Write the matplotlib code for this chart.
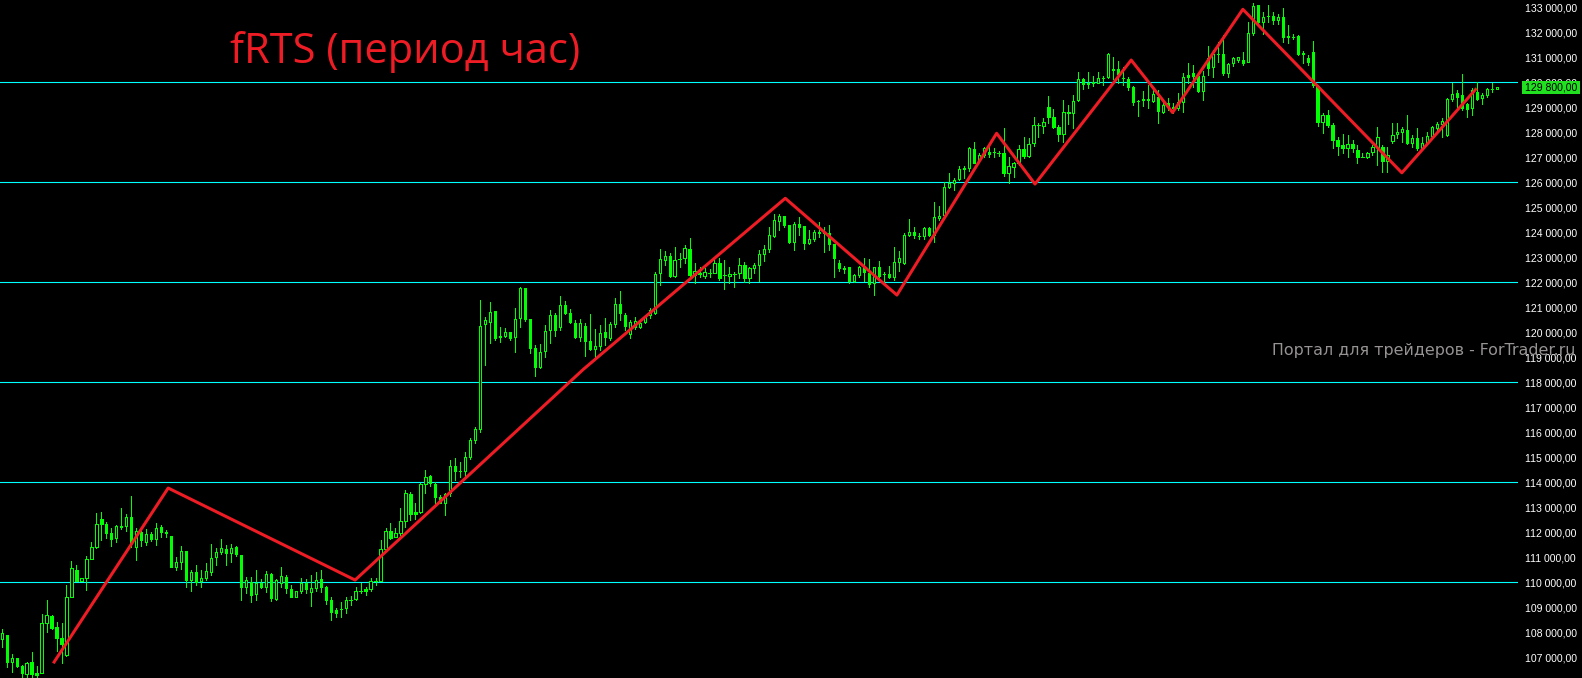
import matplotlib
matplotlib.use('Agg')
import matplotlib.pyplot as plt
from matplotlib.patches import Rectangle

# fRTS hourly candles, prices in thousands
opens = [
    107.72, 107.89, 106.82, 106.96, 106.65, 106.33, 106.8, 106.38, 106.38, 108.36,
    108.65, 108.2, 107.78, 107.09, 109.42, 110.49, 110.06, 110.18, 110.93, 111.42,
    112.53, 112.33, 111.96, 111.76, 112.2, 112.26, 112.6, 111.42, 112.02, 111.6,
    111.93, 111.73, 112.2, 112.0, 111.85, 110.6, 110.82, 111.25, 110.09, 110.4,
    110.06, 110.16, 110.42, 111.03, 111.22, 111.33, 111.18, 111.42, 111.09, 109.82,
    110.02, 109.52, 109.98, 109.82, 110.33, 109.33, 109.99, 110.2, 109.73, 109.42,
    109.65, 109.98, 109.62, 109.78, 110.12, 109.82, 109.29, 108.89, 108.93, 108.96,
    109.28, 109.32, 109.66, 109.74, 109.73, 110.06, 110.06, 111.32, 112.05, 111.8,
    111.96, 112.45, 113.53, 112.8, 112.8, 113.92, 114.25, 113.92, 113.4, 113.16,
    113.56, 114.65, 114.45, 114.45, 115.02, 115.69, 116.12, 120.32, 120.42, 120.85,
    119.82, 119.85, 120.0, 119.82, 120.56, 121.76, 120.53, 119.36, 118.6, 119.26,
    120.09, 120.69, 120.2, 121.09, 120.76, 120.38, 119.82, 120.25, 119.65, 119.33,
    119.45, 120.0, 119.76, 120.33, 121.13, 120.69, 119.92, 120.22, 120.2, 120.42,
    120.69, 120.76, 122.36, 122.89, 123.05, 122.26, 122.92, 122.98, 123.32, 122.29,
    122.35, 122.26, 122.38, 122.38, 122.76, 122.29, 122.25, 122.33, 122.36, 122.69,
    122.16, 122.58, 122.69, 123.13, 123.33, 123.85, 124.46, 124.65, 124.29, 123.62,
    124.33, 124.25, 123.58, 123.73, 123.99, 123.99, 123.96, 123.53, 122.76, 122.56,
    122.6, 122.06, 122.29, 122.6, 122.36, 121.96, 122.6, 122.33, 122.33, 122.2,
    122.8, 122.76, 123.89, 124.02, 123.86, 123.86, 124.18, 123.89, 124.56, 124.69,
    125.82, 125.96, 126.12, 126.55, 126.56, 127.32, 126.89, 127.09, 127.22, 127.2,
    127.18, 127.16, 126.38, 126.62, 126.76, 127.32, 127.05, 127.58, 128.29, 128.26,
    129.0, 128.6, 128.2, 127.93, 128.76, 128.76, 129.29, 130.12, 129.96, 130.02,
    129.98, 130.18, 130.2, 130.52, 130.52, 130.19, 130.13, 129.82, 129.25, 129.32,
    129.32, 129.25, 129.42, 128.83, 129.16, 128.99, 128.96, 129.22, 130.29, 130.39,
    130.25, 129.66, 130.96, 130.62, 131.13, 131.13, 130.36, 130.76, 130.9, 130.89,
    130.82, 131.96, 133.09, 132.42, 132.66, 132.65, 132.49, 132.6, 131.83, 131.83,
    131.85, 131.16, 130.99, 131.22, 129.86, 128.42, 128.69, 128.29, 127.69, 127.49,
    127.36, 127.53, 127.29, 127.03, 127.02, 127.2, 127.42, 127.43, 126.87, 127.67,
    127.92, 128.03, 128.09, 127.56, 127.78, 127.36, 127.58, 127.85, 128.16, 128.33,
    127.89, 129.32, 129.56, 129.49, 129.13, 128.96, 129.6, 129.36, 129.49, 129.72,
    129.72,
]
highs = [
    108.12, 107.89, 107.13, 106.96, 106.69, 106.82, 107.2, 106.65, 108.72, 109.29,
    108.69, 108.4, 108.36, 109.89, 110.85, 110.69, 110.16, 111.05, 111.61, 112.76,
    112.82, 112.42, 112.18, 112.29, 112.96, 112.73, 113.45, 112.18, 112.22, 112.13,
    112.0, 112.38, 112.29, 112.09, 111.85, 111.0, 111.45, 111.25, 110.49, 110.69,
    110.49, 110.76, 111.53, 111.36, 111.72, 111.49, 111.52, 111.45, 111.09, 110.22,
    110.22, 110.49, 110.12, 110.46, 110.38, 110.12, 110.62, 110.29, 109.89, 109.65,
    110.16, 110.12, 110.29, 110.42, 110.49, 109.85, 109.4, 108.96, 109.22, 109.4,
    109.46, 109.82, 109.98, 109.82, 110.16, 110.16, 111.69, 112.16, 112.36, 112.16,
    112.96, 113.69, 113.62, 113.16, 113.96, 114.49, 114.29, 114.02, 113.49, 113.56,
    114.89, 114.96, 114.82, 115.2, 115.76, 116.22, 121.29, 120.6, 121.22, 120.85,
    120.2, 120.16, 120.02, 120.99, 121.8, 121.76, 120.53, 119.49, 119.53, 120.29,
    120.89, 120.76, 121.45, 121.25, 120.92, 120.49, 120.52, 120.36, 120.73, 120.13,
    120.29, 120.56, 120.42, 121.36, 121.65, 120.78, 120.49, 120.62, 120.49, 120.69,
    120.96, 122.42, 123.32, 123.26, 123.18, 123.4, 123.16, 123.49, 123.76, 122.76,
    122.62, 122.56, 122.52, 122.96, 122.99, 122.89, 122.6, 122.42, 122.96, 122.82,
    122.62, 122.76, 123.29, 123.49, 124.2, 124.73, 124.73, 124.65, 124.29, 124.42,
    124.62, 124.25, 124.09, 124.09, 124.4, 124.22, 124.29, 123.53, 122.89, 122.66,
    122.62, 122.33, 122.65, 122.99, 122.92, 122.62, 122.85, 122.42, 122.65, 123.4,
    123.25, 123.96, 124.52, 124.22, 123.98, 124.22, 124.22, 125.22, 125.06, 126.02,
    126.36, 126.16, 126.65, 126.65, 127.4, 127.62, 127.16, 127.42, 127.4, 127.36,
    127.26, 128.16, 127.0, 126.82, 127.49, 127.82, 127.76, 128.6, 128.38, 128.56,
    129.45, 128.92, 128.29, 129.29, 129.09, 129.49, 130.42, 130.16, 130.4, 130.25,
    130.4, 130.25, 131.18, 131.02, 130.85, 130.62, 130.2, 129.86, 129.29, 129.65,
    129.89, 129.69, 129.69, 129.29, 129.36, 129.16, 129.56, 130.36, 130.76, 130.69,
    130.29, 130.46, 131.45, 131.29, 131.62, 131.89, 130.76, 131.02, 131.02, 131.22,
    132.42, 133.16, 133.09, 132.82, 133.09, 132.82, 132.73, 132.96, 132.29, 131.92,
    131.89, 131.26, 131.09, 131.65, 129.89, 128.78, 128.89, 128.36, 127.82, 127.92,
    127.89, 127.69, 127.49, 127.16, 127.22, 127.49, 128.22, 127.49, 127.42, 128.36,
    128.38, 128.22, 128.69, 127.89, 128.18, 127.82, 128.02, 128.25, 128.42, 128.56,
    129.36, 129.96, 129.69, 130.33, 129.16, 129.76, 130.02, 129.56, 129.76, 129.96,
    129.8,
]
lows = [
    107.42, 106.62, 106.42, 106.6, 106.22, 106.22, 106.2, 106.17, 106.36, 108.03,
    108.13, 107.27, 106.78, 107.06, 109.42, 110.06, 110.06, 109.69, 110.93, 111.38,
    111.69, 111.76, 111.46, 111.62, 112.12, 112.05, 111.42, 110.89, 111.46, 111.49,
    111.66, 111.49, 111.8, 111.8, 110.6, 110.49, 110.52, 109.82, 109.66, 109.89,
    109.8, 110.09, 110.29, 110.69, 111.13, 110.69, 110.82, 111.05, 109.29, 109.56,
    109.22, 109.29, 109.78, 109.62, 109.26, 109.29, 109.82, 109.58, 109.42, 109.42,
    109.56, 109.56, 109.06, 109.66, 109.62, 109.13, 108.49, 108.62, 108.6, 108.76,
    109.09, 109.29, 109.56, 109.49, 109.66, 109.89, 110.06, 111.26, 111.73, 111.8,
    111.89, 112.22, 112.49, 112.52, 112.76, 113.56, 113.86, 113.13, 113.16, 112.69,
    113.46, 114.09, 114.22, 114.2, 114.92, 115.56, 116.0, 118.69, 119.58, 119.69,
    119.62, 119.8, 119.69, 119.22, 120.22, 120.46, 119.18, 118.26, 118.56, 119.02,
    119.56, 119.85, 120.09, 120.73, 120.36, 119.76, 119.66, 119.05, 119.29, 119.02,
    119.29, 119.49, 119.69, 120.22, 120.49, 120.09, 119.76, 120.12, 120.16, 120.36,
    120.56, 120.73, 121.89, 122.69, 122.2, 122.22, 122.62, 122.76, 122.25, 121.96,
    122.22, 122.16, 122.2, 122.36, 122.09, 121.72, 121.96, 121.82, 122.16, 122.02,
    121.96, 122.36, 122.06, 122.86, 123.22, 123.82, 124.09, 124.2, 123.56, 123.29,
    123.89, 123.32, 123.53, 123.66, 123.82, 123.22, 123.29, 122.2, 122.46, 122.36,
    121.98, 122.02, 122.22, 122.06, 121.8, 121.49, 122.22, 121.96, 122.16, 122.09,
    122.46, 122.73, 123.85, 123.76, 123.72, 123.72, 123.85, 123.62, 124.49, 124.62,
    125.76, 125.69, 126.09, 126.18, 126.46, 126.78, 126.82, 127.02, 127.02, 127.02,
    127.05, 126.25, 125.98, 126.22, 126.69, 126.96, 127.02, 127.45, 127.82, 127.98,
    128.38, 128.16, 127.66, 127.62, 128.33, 128.16, 129.26, 129.72, 129.76, 129.85,
    129.96, 129.89, 130.16, 130.12, 129.96, 129.89, 129.69, 129.09, 128.65, 129.05,
    128.96, 129.22, 128.38, 128.76, 128.89, 128.76, 128.89, 128.83, 129.96, 129.82,
    129.62, 129.29, 130.29, 130.2, 130.82, 130.29, 130.22, 130.65, 130.82, 130.69,
    130.82, 131.89, 132.36, 131.93, 132.42, 132.33, 132.33, 131.6, 131.56, 131.72,
    131.09, 130.76, 130.69, 129.82, 128.25, 127.96, 128.22, 127.36, 127.09, 127.16,
    127.0, 127.22, 126.76, 127.0, 126.96, 127.09, 126.69, 126.43, 126.43, 127.59,
    127.76, 127.63, 127.53, 127.42, 127.29, 127.29, 127.53, 127.76, 128.09, 127.83,
    127.85, 129.27, 129.03, 128.89, 128.63, 128.69, 129.29, 129.13, 129.43, 129.63,
    129.72,
]
closes = [
    107.96, 106.82, 106.96, 106.66, 106.36, 106.76, 106.32, 106.29, 108.36, 108.68,
    108.18, 107.78, 107.53, 109.4, 110.56, 110.06, 110.16, 110.93, 111.4, 112.33,
    112.33, 111.96, 111.73, 112.25, 112.25, 112.6, 111.56, 112.06, 111.69, 111.92,
    111.72, 112.18, 112.0, 111.98, 110.6, 110.8, 111.25, 110.09, 110.4, 110.03,
    110.16, 110.45, 110.96, 111.22, 111.36, 111.18, 111.36, 111.13, 109.82, 110.09,
    109.49, 109.96, 109.82, 110.33, 109.38, 110.09, 110.26, 109.76, 109.42, 109.65,
    109.98, 109.72, 109.76, 110.09, 109.82, 109.29, 108.82, 108.78, 108.95, 109.29,
    109.3, 109.66, 109.67, 109.66, 110.06, 110.07, 111.32, 112.05, 111.76, 111.96,
    112.45, 113.56, 112.72, 112.72, 113.92, 114.22, 113.96, 113.42, 113.18, 113.53,
    114.65, 114.45, 114.46, 115.02, 115.69, 116.12, 120.25, 120.49, 120.82, 119.76,
    119.85, 120.0, 119.76, 120.52, 121.76, 120.53, 119.38, 118.6, 119.22, 120.06,
    120.69, 120.09, 121.09, 120.78, 120.42, 119.8, 120.36, 119.65, 119.33, 119.45,
    119.98, 119.8, 120.32, 121.13, 120.76, 120.26, 120.4, 120.45, 120.36, 120.62,
    120.89, 122.32, 122.92, 123.05, 122.25, 122.89, 122.93, 123.36, 122.29, 122.46,
    122.36, 122.42, 122.39, 122.76, 122.16, 122.3, 122.33, 122.34, 122.69, 122.16,
    122.56, 122.69, 123.12, 123.33, 123.89, 124.49, 124.65, 124.29, 123.62, 124.33,
    124.22, 123.58, 123.73, 124.02, 124.0, 123.98, 123.53, 122.96, 122.56, 122.55,
    122.06, 122.29, 122.6, 122.42, 121.93, 122.6, 122.26, 122.32, 122.2, 122.8,
    122.96, 123.89, 124.02, 123.89, 123.87, 124.18, 123.89, 124.6, 124.66, 125.8,
    125.96, 126.09, 126.52, 126.56, 127.36, 126.78, 127.09, 127.36, 127.13, 127.2,
    127.19, 126.38, 126.65, 126.76, 127.32, 127.05, 127.53, 128.29, 128.3, 128.4,
    128.6, 128.2, 127.93, 128.8, 128.82, 129.26, 130.12, 129.92, 129.95, 129.96,
    130.16, 130.19, 131.13, 130.51, 130.32, 130.18, 129.82, 129.2, 129.26, 129.31,
    129.31, 129.52, 128.86, 129.09, 129.05, 129.0, 129.2, 130.2, 130.2, 130.25,
    129.66, 130.25, 130.56, 131.13, 131.14, 130.36, 130.73, 130.98, 131.0, 130.76,
    131.96, 133.05, 132.42, 132.6, 132.67, 132.49, 132.6, 131.83, 131.84, 131.82,
    131.13, 131.15, 130.82, 129.89, 128.42, 128.69, 128.29, 127.69, 127.46, 127.36,
    127.53, 127.36, 127.02, 127.02, 127.16, 127.4, 127.82, 126.87, 127.09, 127.89,
    128.03, 128.13, 127.56, 127.78, 127.36, 127.58, 127.85, 128.23, 128.33, 128.47,
    129.32, 129.53, 129.42, 128.96, 128.92, 129.69, 129.32, 129.49, 129.72, 129.73,
    129.8,
]

# zigzag turning points (candle index, price)
zz_x = [10.35, 33.4, 70.9, 116.7, 157.2, 179.6, 199.6, 207.3, 226.6, 234.9, 249.0, 280.9, 295.9]
zz_y = [106.76, 113.77, 110.09, 118.52, 125.36, 121.49, 127.96, 125.93, 130.89, 128.79, 132.92, 126.38, 129.76]

levels = [110, 114, 118, 122, 126, 130]
last_price = 129.8
title = 'fRTS (период час)'
watermark = 'Портал для трейдеров - ForTrader.ru'

plt.rcParams['font.family'] = 'Liberation Sans'

W, H = 1582, 678
fig = plt.figure(figsize=(W / 100, H / 100), dpi=100, facecolor='black')
ax = fig.add_axes([0, 0, 1518 / W, 1])
ax.set_facecolor('black')

green = '#00ff00'
idx = list(range(len(opens)))

for lv in levels:
    ax.axhline(lv, color='#00ffff', lw=0.8, zorder=1)

ax.vlines(idx, lows, highs, color=green, lw=0.72, antialiased=False, zorder=2)
for i in idx:
    o, c = opens[i], closes[i]
    bottom = min(o, c)
    h = max(abs(c - o), 0.01)
    face = 'black' if c >= o else green
    ax.bar(i, h, bottom=bottom, width=0.45, facecolor=face, edgecolor=green,
           lw=0.72, antialiased=False, zorder=3)

ax.plot(zz_x, zz_y, color='#ee1c24', lw=2.2, zorder=4, solid_capstyle='butt')

ax.set_xlim(-0.34, 304.2)
ax.set_ylim(133.292 - H / 25, 133.292)
for s in ax.spines.values():
    s.set_visible(False)
ax.set_xticks([])
ticks = list(range(107, 134))
ax.set_yticks(ticks)
ax.set_yticklabels([f'{t} 000,00' for t in ticks])
ax.yaxis.tick_right()
ax.tick_params(axis='y', length=0, pad=5, colors='white', labelsize=7.6)

# current price marker
y0 = (H - 94) / H
fig.patches.append(Rectangle((1522 / W, y0), 58 / W, 13.5 / H, transform=fig.transFigure,
                             facecolor='#20e020', edgecolor='none', zorder=5))
fig.text(1525 / W, (H - 87.5) / H, f'{int(last_price)} {int(round(last_price * 1000)) % 1000:03d},00',
         color='black', fontsize=7.6, va='center', ha='left', zorder=6)

fig.text(230 / W, (H - 63.3) / H, title, color='#ee1c24', fontsize=30,
         family='Open Sans', va='baseline', ha='left')
fig.text(1575 / W, (H - 355) / H, watermark, color='#979393', fontsize=11.4,
         family='DejaVu Sans', va='baseline', ha='right', zorder=6)

fig.savefig('out.png', dpi=100, facecolor='black')
